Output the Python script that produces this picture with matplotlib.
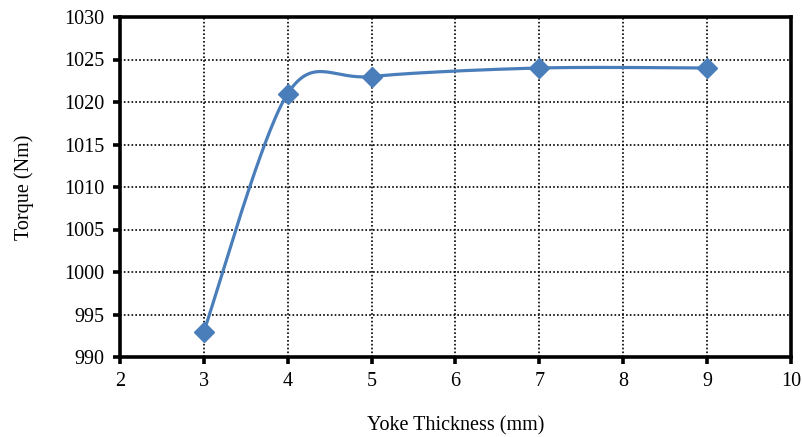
import matplotlib
matplotlib.use("Agg")
import matplotlib.pyplot as plt
import numpy as np

plt.rcParams["font.family"] = ["Liberation Serif", "DejaVu Serif"]

thickness = [3, 4, 5, 7, 9]
torque = [993, 1021, 1023, 1024, 1024]
x_ticks = [2, 3, 4, 5, 6, 7, 8, 9, 10]
y_ticks = [990, 995, 1000, 1005, 1010, 1015, 1020, 1025, 1030]

LINE_BLUE = "#4A7EBB"


def smooth_curve(xs, ys, n=60):
    # Excel-style smoothed line: cubic Bezier segments, Catmull-Rom tangents
    pts = np.column_stack([xs, ys]).astype(float)
    out = []
    for i in range(len(pts) - 1):
        p0 = pts[i - 1] if i > 0 else pts[i]
        p1 = pts[i]
        p2 = pts[i + 1]
        p3 = pts[i + 2] if i + 2 < len(pts) else pts[i + 1]
        c1 = p1 + (p2 - p0) / 6.5
        c2 = p2 - (p3 - p1) / 6.5
        t = np.linspace(0, 1, n)[:, None]
        seg = ((1 - t) ** 3) * p1 + 3 * ((1 - t) ** 2) * t * c1 \
            + 3 * (1 - t) * t ** 2 * c2 + t ** 3 * p2
        out.append(seg if i == 0 else seg[1:])
    seg = np.vstack(out)
    return seg[:, 0], seg[:, 1]


fig = plt.figure(figsize=(8.03, 4.37), dpi=100)
ax = fig.add_axes([120 / 803, 1 - 357 / 437, (791 - 120) / 803, (357 - 17) / 437])

sx, sy = smooth_curve(thickness, torque)
ax.plot(sx, sy, color=LINE_BLUE, lw=2.3, zorder=3, solid_capstyle="round")
ax.plot(thickness, torque, linestyle="none", marker="D", markersize=10,
        color=LINE_BLUE, zorder=4)

ax.set_xlim(2, 10)
ax.set_ylim(990, 1030)
ax.set_xticks(x_ticks)
ax.set_yticks(y_ticks)
ax.grid(True, color="black", linestyle=(0, (1, 1.3)), linewidth=1.2)
ax.set_axisbelow(True)

for side in ax.spines.values():
    side.set_linewidth(2.6)
    side.set_color("black")

ax.tick_params(direction="out", length=5, width=2.6, labelsize=14.5, pad=6)
ax.set_xlabel("Yoke Thickness (mm)", fontsize=14.5, labelpad=18)
ax.set_ylabel("Torque (Nm)", fontsize=14.5, labelpad=22)

fig.savefig("out.png", dpi=100)
